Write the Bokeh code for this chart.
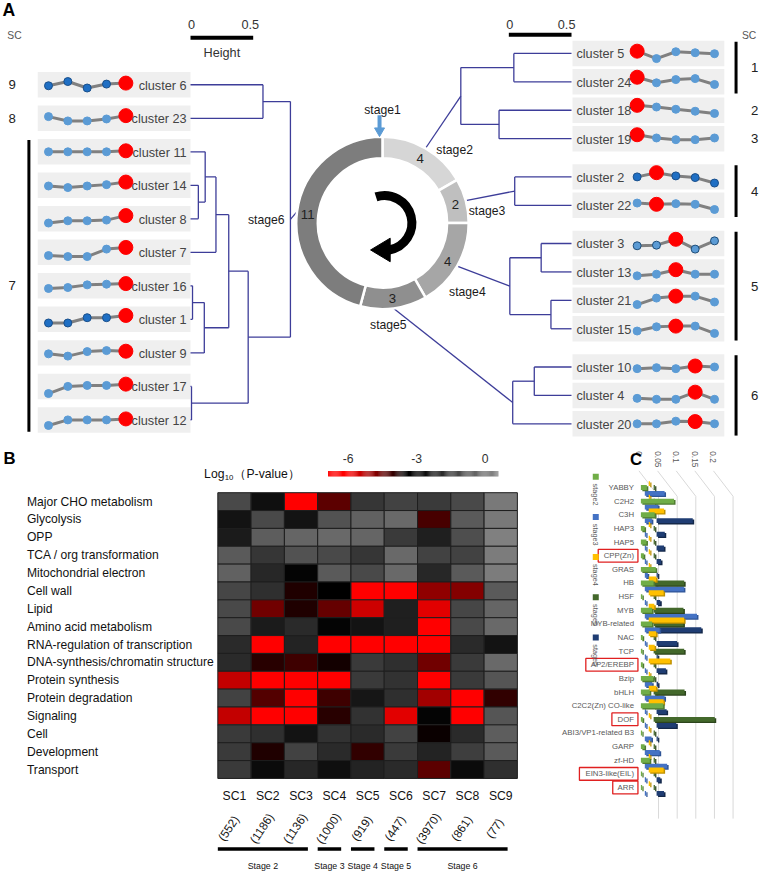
import math
import numpy as np
from bokeh.plotting import figure
from bokeh.layouts import column, row
from bokeh.models import Range1d, LinearColorMapper, ColumnDataSource
from bokeh.transform import transform
from bokeh.core.properties import value
from bokeh.embed import file_html
from bokeh.resources import INLINE

# ======================= DATA =======================
# ---- Panel A: clusters, expression profiles (5 stages), sub-clusters ----
left_clusters = ["cluster 6", "cluster 23", "cluster 11", "cluster 14", "cluster 8", "cluster 7",
                 "cluster 16", "cluster 1", "cluster 9", "cluster 17", "cluster 12"]
left_sc = [9, 8, 7, 7, 7, 7, 7, 7, 7, 7, 7]
left_profiles = [
    [-1.0, 3.3, -3.3, 0.7, 1.7],
    [1.7, -2.7, -2.7, -0.7, 2.7],
    [0.0, 0.0, 0.0, 0.0, 1.0],
    [-0.7, -2.3, -0.7, 0.7, 3.3],
    [-4.3, -2.0, -2.0, -1.3, 3.3],
    [-3.3, -4.3, -4.3, 3.3, 5.0],
    [-2.7, -1.7, 1.0, 1.7, 2.3],
    [-3.7, -3.7, 1.7, 1.7, 4.0],
    [-1.0, -3.3, 1.3, 2.3, 1.7],
    [-7.3, 0.0, 1.0, 1.0, 2.3],
    [-5.7, 0.0, 0.0, 0.0, 1.0],
]
right_clusters = ["cluster 5", "cluster 24", "cluster 18", "cluster 19", "cluster 2", "cluster 22",
                  "cluster 3", "cluster 13", "cluster 21", "cluster 15", "cluster 10", "cluster 4",
                  "cluster 20"]
right_stage = [2, 2, 2, 2, 3, 3, 4, 4, 4, 4, 5, 5, 5]
right_sc = [1, 1, 2, 3, 4, 4, 5, 5, 5, 5, 6, 6, 6]
right_profiles = [
    [2.3, -5.3, 1.7, 0.7, -0.3],
    [4.7, -1.0, 2.3, 3.3, -2.7],
    [5.0, 3.3, 1.0, -1.0, -3.3],
    [4.0, 0.7, -1.0, -1.0, 0.7],
    [0.0, 4.3, 1.0, -0.7, -6.3],
    [2.3, 1.0, 1.7, 1.0, -4.3],
    [-2.3, -1.7, 4.3, -5.7, 2.7],
    [-4.0, -2.3, 2.3, -2.3, -2.3],
    [-4.3, 2.3, 4.3, 4.3, -1.7],
    [-2.3, 2.0, 2.7, 2.7, -4.7],
    [-1.7, -0.7, -1.7, 1.0, 0.0],
    [-3.0, -4.0, -4.0, 3.3, -4.0],
    [0.0, 0.0, 2.7, 2.3, 0.0],
]
dark_point_clusters = ["cluster 6", "cluster 1", "cluster 2"]
outlined_point_clusters = ["cluster 3"]
stage_names = ["stage1", "stage2", "stage3", "stage4", "stage5", "stage6"]
stage_counts = [0, 4, 2, 4, 3, 11]
# dendrograms: (left, right, merge height)
left_tree = (("cluster 6", "cluster 23", 0.578),
             ((((("cluster 11", ("cluster 14", "cluster 8", 0.0625), 0.117), "cluster 7", 0.203)),
               (("cluster 16", "cluster 1", 0.016), "cluster 9", 0.11), 0.305),
              ("cluster 17", "cluster 12", 0.008), 0.46),
             0.797)
right_trees = {
    2: (("cluster 5", "cluster 24", 0.46), ("cluster 18", "cluster 19", 0.578), 0.883),
    3: ("cluster 2", "cluster 22", 0.453),
    4: (("cluster 3", "cluster 13", 0.242), ("cluster 21", "cluster 15", 0.164), 0.492),
    5: (("cluster 10", "cluster 4", 0.297), "cluster 20", 0.469),
}
scale_bar_height = 0.5

# ---- Panel B: log10(P-value) heatmap ----
go_terms = ["Major CHO metabolism", "Glycolysis", "OPP", "TCA / org transformation",
            "Mitochondrial electron", "Cell wall", "Lipid", "Amino acid metabolism",
            "RNA-regulation of transcription", "DNA-synthesis/chromatin structure",
            "Protein synthesis", "Protein degradation", "Signaling", "Cell", "Development",
            "Transport"]
sc_labels = ["SC1", "SC2", "SC3", "SC4", "SC5", "SC6", "SC7", "SC8", "SC9"]
sc_counts = [552, 1186, 1136, 1000, 919, 447, 3970, 861, 77]
log10_p = [
    [-1.1, -2.6, -6.5, -4.4, -1.6, -1.3, -1.5, -1.1, 0.1],
    [-2.5, -1.1, -2.5, -0.9, -0.5, -0.3, -4.2, -0.7, 0.1],
    [-2.3, -0.6, -0.4, -0.3, -0.4, -1.5, -2.2, -1.0, 0.3],
    [-0.7, -1.6, -0.9, -1.1, -1.6, -0.3, -1.3, -1.3, 0.2],
    [-0.5, -2.0, -2.9, -0.7, -1.1, -0.3, -2.0, -0.7, 0.2],
    [-1.2, -1.8, -3.8, -3.3, -6.5, -6.5, -4.9, -4.8, -0.7],
    [-1.1, -4.6, -3.8, -4.5, -5.5, -2.2, -5.7, -1.2, -0.4],
    [-1.1, -2.3, -1.9, -2.9, -2.5, -2.2, -6.5, -1.1, -0.3],
    [-1.9, -6.5, -2.1, -6.5, -6.5, -6.5, -6.5, -1.9, -2.5],
    [-1.9, -3.9, -4.1, -3.7, -1.5, -1.8, -4.6, -1.5, -0.3],
    [-5.4, -6.5, -6.5, -6.5, -1.5, -1.7, -6.5, -1.5, -0.8],
    [-1.3, -4.3, -6.5, -4.1, -2.4, -1.8, -5.1, -6.5, -4.0],
    [-5.4, -6.5, -6.5, -3.9, -1.7, -5.7, -2.9, -6.5, -0.8],
    [-1.5, -1.8, -2.5, -1.7, -1.9, -1.3, -3.6, -1.9, -0.6],
    [-1.5, -3.8, -1.3, -1.9, -4.0, -1.5, -2.1, -1.4, -0.7],
    [-1.5, -2.7, -2.0, -2.6, -2.1, -1.9, -4.4, -2.7, -1.8],
]
colorbar_ticks = [-6, -3, 0]
stage_groups = [("Stage 2", 0, 2), ("Stage 3", 3, 3), ("Stage 4", 4, 4), ("Stage 5", 5, 5),
                ("Stage 6", 6, 8)]

# ---- Panel C: TF family proportions per stage ----
tf_families = ["YABBY", "C2H2", "C3H", "HAP3", "HAP5", "CPP(Zn)", "GRAS", "HB", "HSF", "MYB",
               "MYB-related", "NAC", "TCP", "AP2/EREBP", "Bzip", "bHLH", "C2C2(Zn) CO-like",
               "DOF", "ABI3/VP1-related B3", "GARP", "zf-HD", "EIN3-like(EIL)", "ARR"]
tf_stage2 = [0.016, 0.089, 0.037, 0.010, 0.015, 0.008, 0.040, 0.034, 0.004, 0.030, 0.030, 0.005,
             0.004, 0.005, 0.033, 0.024, 0.060, 0.005, 0.0, 0.010, 0.024, 0.003, 0.0]
tf_stage3 = [0.053, 0.035, 0.019, 0.0, 0.0, 0.0, 0.008, 0.105, 0.0, 0.140, 0.040, 0.0, 0.0, 0.0,
             0.020, 0.053, 0.0, 0.0, 0.018, 0.040, 0.060, 0.0, 0.0]
tf_stage4 = [0.0, 0.0, 0.041, 0.0, 0.0, 0.0, 0.0, 0.020, 0.040, 0.015, 0.095, 0.020, 0.016, 0.058,
             0.0, 0.020, 0.040, 0.0, 0.0, 0.0, 0.0, 0.040, 0.0]
tf_stage5 = [0.0, 0.0, 0.0, 0.0, 0.0, 0.0, 0.0, 0.082, 0.0, 0.080, 0.080, 0.0, 0.082, 0.0, 0.0,
             0.083, 0.0, 0.164, 0.0, 0.0, 0.0, 0.0, 0.0]
tf_stage6 = [0.0, 0.0, 0.097, 0.022, 0.020, 0.012, 0.0, 0.0, 0.010, 0.0, 0.120, 0.055, 0.0, 0.025,
             0.004, 0.0, 0.027, 0.053, 0.0, 0.0, 0.0, 0.010, 0.020]
tf_series_names = ["stage2", "stage3", "stage4", "stage5", "stage6"]
tf_ticks = [0, 0.05, 0.1, 0.15, 0.2]
tf_highlight = ["CPP(Zn)", "AP2/EREBP", "DOF", "EIN3-like(EIL)", "ARR"]

# ======================= STYLE HELPERS =======================
S = 0.98
SANS = "Liberation Sans"


def make_fig(w, h, xr, yr):
    p = figure(width=w, height=h, x_range=xr, y_range=yr, output_backend="svg",
               toolbar_location=None, x_axis_location=None, y_axis_location=None,
               min_border=0, min_border_left=0, min_border_right=0, min_border_top=0,
               min_border_bottom=0)
    p.grid.visible = False
    p.outline_line_color = None
    p.background_fill_color = "white"
    p.border_fill_color = "white"
    return p


def txt(p, x, y, s, size, color="#222222", align="left", baseline="middle", font=SANS,
        style="normal", angle=0.0):
    p.text(x=[x], y=[y], text=[s], angle=angle, text_font=value(font),
           text_font_size=f"{size * S:.1f}px", text_color=color, text_align=align,
           text_baseline=baseline, text_font_style=style)


# ======================= PANEL A =======================
pA = make_fig(762, 439, Range1d(0, 778), Range1d(448, 0))
UNIT = 128.0          # px per dendrogram height unit
L_LEAF_X, R_LEAF_X = 194.0, 583.0
CX, CY, R_IN, R_OUT = 390.0, 227.0, 66.0, 88.0
DENDRO_COLOR = "#3d3d99"

left_y = {n: 86 + i * 34.2 for i, n in enumerate(left_clusters)}
right_y = {n: 54 + i * 29 + (st - 2) * 10 for i, (n, st) in enumerate(zip(right_clusters, right_stage))}

pA.rect(x=[116] * len(left_clusters), y=[left_y[n] for n in left_clusters], width=156, height=26,
        fill_color="#efefef", line_color=None)
pA.rect(x=[661.5] * len(right_clusters), y=[right_y[n] for n in right_clusters], width=155,
        height=26, fill_color="#efefef", line_color=None)


def tree_segments(node, ypos, x_leaf, direction, xs, ys):
    if isinstance(node, str):
        return x_leaf, ypos[node]
    a, b, h = node
    xa, ya = tree_segments(a, ypos, x_leaf, direction, xs, ys)
    xb, yb = tree_segments(b, ypos, x_leaf, direction, xs, ys)
    xh = x_leaf + direction * h * UNIT
    xs.extend([[xa, xh], [xb, xh], [xh, xh]])
    ys.extend([[ya, ya], [yb, yb], [ya, yb]])
    return xh, (ya + yb) / 2.0


def ring_point(stage_idx, r):
    total = sum(stage_counts)
    cum = sum(stage_counts[:stage_idx])
    a_mid = (cum + stage_counts[stage_idx] / 2.0) / total * 2 * math.pi
    return CX + r * math.sin(a_mid), CY - r * math.cos(a_mid)


dxs, dys = [], []
root6 = tree_segments(left_tree, left_y, L_LEAF_X, +1, dxs, dys)
roots = {6: root6}
for st, tr in right_trees.items():
    roots[st] = tree_segments(tr, right_y, R_LEAF_X, -1, dxs, dys)
for st, (rx, ry) in roots.items():
    px, py = ring_point(st - 1, R_OUT)
    dxs.append([rx, px])
    dys.append([ry, py])
pA.multi_line(dxs, dys, line_color=DENDRO_COLOR, line_width=1.3)


def draw_profiles(names, profiles, ypos, x0, red_idx):
    xl, yl, bx, by, bfc, blc, rx, ry = [], [], [], [], [], [], [], []
    for n, prof, ri in zip(names, profiles, red_idx):
        xs = [x0 + 19.75 * k for k in range(5)]
        ys = [ypos[n] - v for v in prof]
        xl.append(xs)
        yl.append(ys)
        for k in range(5):
            if k == ri:
                rx.append(xs[k]); ry.append(ys[k])
            else:
                bx.append(xs[k]); by.append(ys[k])
                if n in dark_point_clusters:
                    bfc.append("#1f6fc4"); blc.append("#1a4f8a")
                elif n in outlined_point_clusters:
                    bfc.append("#5b9bd5"); blc.append("#1f4e79")
                else:
                    bfc.append("#5b9bd5"); blc.append("#5b9bd5")
    pA.multi_line(xl, yl, line_color="#808080", line_width=3)
    pA.scatter(bx, by, size=8, fill_color=bfc, line_color=blc, line_width=1)
    pA.scatter(rx, ry, size=14, fill_color="#ff0000", line_color="#ff0000")


draw_profiles(left_clusters, left_profiles, left_y, 49, [4] * len(left_clusters))
draw_profiles(right_clusters, right_profiles, right_y, 650, [s - 2 for s in right_stage])

pA.text(x=[190] * len(left_clusters), y=[left_y[n] + 1 for n in left_clusters], text=left_clusters,
        text_font=value(SANS), text_font_size=f"{13 * S:.1f}px", text_color="#444444",
        text_align="right", text_baseline="middle")
pA.text(x=[588] * len(right_clusters), y=[right_y[n] + 1 for n in right_clusters],
        text=right_clusters, text_font=value(SANS), text_font_size=f"{13 * S:.1f}px",
        text_color="#444444", text_align="left", text_baseline="middle")

# ring
ring_colors = ["#ffffff", "#d6d6d6", "#bfbfbf", "#a6a6a6", "#8f8f8f", "#7d7d7d"]
total = sum(stage_counts)
cum = 0
for i, c in enumerate(stage_counts):
    if c > 0:
        a0 = cum / total * 360.0
        a1 = (cum + c) / total * 360.0
        pA.annular_wedge(x=[CX], y=[CY], inner_radius=R_IN, outer_radius=R_OUT,
                         start_angle=math.radians(90 - a0), end_angle=math.radians(90 - a1),
                         direction="clock", fill_color=ring_colors[i], line_color="white",
                         line_width=2.5)
        nx, ny = ring_point(i, (R_IN + R_OUT) / 2.0)
        txt(pA, nx, ny + 1, str(c), 13.5, align="center")
    cum += c

stage_label_pos = {"stage1": (390, 112, "center"), "stage2": (445, 153, "left"),
                   "stage3": (478, 215, "left"), "stage4": (458, 297, "left"),
                   "stage5": (396, 331, "center"), "stage6": (290, 224, "right")}
for nm in stage_names:
    x, y, al = stage_label_pos[nm]
    txt(pA, x, y, nm, 12.5, color="#1a1a1a", align=al)

# stage1 arrow
pA.segment(x0=[387], y0=[117], x1=[387], y1=[130], line_color="#5b9bd5", line_width=4)
pA.scatter(x=[387], y=[133], marker="inverted_triangle", size=10, fill_color="#5b9bd5",
           line_color="#5b9bd5")

# circular arrow
ACX, ACY, AR = 392.0, 227.0, 28.0
a_start, a_end = math.radians(108), math.radians(-80)
pA.arc(x=[ACX], y=[ACY], radius=AR, start_angle=a_start, end_angle=a_end, direction="clock",
       line_color="black", line_width=9)
ex, ey = ACX + AR * math.cos(a_end), ACY - AR * math.sin(a_end)
pA.patch(x=[ex + 1, ex + 1, ex - 19], y=[ey - 12, ey + 12, ey], fill_color="black", line_color="black")


# SC bars
def sc_groups(names, scs, ypos, xbar, xlab):
    i = 0
    while i < len(names):
        j = i
        while j + 1 < len(names) and scs[j + 1] == scs[i]:
            j += 1
        y0, y1 = ypos[names[i]], ypos[names[j]]
        if j > i:
            pA.segment(x0=[xbar], y0=[y0 - 12], x1=[xbar], y1=[y1 + 12], line_color="black",
                       line_width=3)
        txt(pA, xlab, (y0 + y1) / 2.0, str(scs[i]), 13.5, align="center")
        i = j + 1


sc_groups(left_clusters, left_sc, left_y, 29, 12)
sc_groups(right_clusters, right_sc, right_y, 751, 770)
txt(pA, 7, 36, "SC", 10.5, color="#555555")
txt(pA, 757, 36, "SC", 10.5, color="#555555")
txt(pA, 2, 10, "A", 18, color="black", style="bold")

# scale bars
pA.segment(x0=[L_LEAF_X], y0=[38], x1=[L_LEAF_X + scale_bar_height * UNIT], y1=[38],
           line_color="black", line_width=4)
txt(pA, L_LEAF_X + 1, 24, "0", 13, color="#333333", align="center")
txt(pA, L_LEAF_X + scale_bar_height * UNIT - 3, 24, "0.5", 13, color="#333333", align="center")
txt(pA, L_LEAF_X + scale_bar_height * UNIT / 2, 54, "Height", 13, color="#333333", align="center")
pA.segment(x0=[R_LEAF_X - scale_bar_height * UNIT], y0=[35], x1=[R_LEAF_X], y1=[35],
           line_color="black", line_width=4)
txt(pA, R_LEAF_X - scale_bar_height * UNIT + 1, 24, "0", 13, color="#333333", align="center")
txt(pA, R_LEAF_X - 5, 24, "0.5", 13, color="#333333", align="center")

# ======================= PANEL B =======================
B_X0, B_CW = 222.0, 34.0
B_Y0, B_RH = 502.3, 18.23
SPLIT = 570.0


def bx(px):
    return (px - B_X0) / B_CW


def by(py):
    return (py - B_Y0) / B_RH


pB = make_fig(558, 434, Range1d(bx(0), bx(SPLIT)), Range1d(by(891), by(448)))


def cmap_hex(v):
    if v <= -6:
        r, g, b = 255, 0, 0
    elif v <= -3.5:
        r, g, b = int(255 * (-3.5 - v) / 2.5), 0, 0
    elif v <= -3.0:
        r, g, b = 0, 0, 0
    else:
        gg = int(min(140, 140 * (v + 3) / 3.6))
        r, g, b = gg, gg, gg
    return "#%02x%02x%02x" % (r, g, b)


LOW, HIGH = -7.0, 0.6
palette = [cmap_hex(v) for v in np.linspace(LOW, HIGH, 256)]
mapper = LinearColorMapper(palette=palette, low=LOW, high=HIGH)

hx, hy, hv = [], [], []
for i, rowv in enumerate(log10_p):
    for j, v in enumerate(rowv):
        hx.append(j + 0.5); hy.append(i + 0.5); hv.append(v)
src = ColumnDataSource(dict(x=hx, y=hy, v=hv))
pB.rect(x="x", y="y", width=1, height=1, source=src, fill_color=transform("v", mapper),
        line_color="#1e1e1e", line_width=1)

pB.text(x=[bx(27)] * len(go_terms), y=[i + 0.5 for i in range(len(go_terms))], text=go_terms,
        text_font=value(SANS), text_font_size=f"{12.3 * S:.1f}px", text_color="#111111",
        text_align="left", text_baseline="middle")
pB.text(x=[j + 0.5 for j in range(9)], y=[by(812)] * 9, text=sc_labels, text_font=value(SANS),
        text_font_size=f"{12.5 * S:.1f}px", text_color="#111111", text_align="center",
        text_baseline="middle")
pB.text(x=[j + 0.5 - 6 / B_CW for j in range(9)], y=[by(845)] * 9,
        text=[f"({c})" for c in sc_counts], angle=0.98, text_font=value(SANS),
        text_font_size=f"{12 * S:.1f}px", text_color="#111111", text_align="center",
        text_baseline="middle")
for name, j0, j1 in stage_groups:
    x0, x1 = j0 + 0.0, j1 + 1 - 10 / B_CW
    pB.segment(x0=[x0], y0=[by(866)], x1=[x1], y1=[by(866)], line_color="black", line_width=3.5)
    txt(pB, (x0 + x1) / 2, by(883), name, 9.0, color="#111111", align="center")

# colour bar
CB_ZERO, CB_PXU = 495.0, 23.3
cb_vals = np.linspace(-6.86, 0.56, 160)
cb_step = (cb_vals[1] - cb_vals[0]) * CB_PXU / B_CW
cb_src = ColumnDataSource(dict(x=[bx(CB_ZERO + v * CB_PXU) for v in cb_vals],
                               y=[by(483)] * len(cb_vals), v=list(cb_vals)))
pB.rect(x="x", y="y", width=cb_step * 1.05, height=5.5 / B_RH, source=cb_src,
        fill_color=transform("v", mapper), line_color=None)
for t in colorbar_ticks:
    txt(pB, bx(CB_ZERO + t * CB_PXU), by(467), str(t), 12.5, color="#333333", align="center")
txt(pB, bx(208), by(483), "Log", 12.5, color="#111111")
txt(pB, bx(229), by(487), "10", 8, color="#111111")
txt(pB, bx(239), by(483), "（P-value）", 12.5, color="#111111")
txt(pB, bx(3), by(467), "B", 17, color="black", style="bold")

# ======================= PANEL C =======================
C_X0, C_PXU = 654.0, 380.0
C_Y0, C_RH = 497.0, 13.92


def cx(px):
    return (px - C_X0) / C_PXU


def cy(py):
    return (py - C_Y0) / C_RH


pC = make_fig(204, 434, Range1d(cx(SPLIT), cx(778)), Range1d(cy(891), cy(448)))

# gridlines (perspective back wall)
gx, gy = [], []
for t in tf_ticks:
    gx.append([t + cx(652), t + cx(672), t + cx(672)])
    gy.append([cy(480), cy(506), cy(835)])
pC.multi_line(gx, gy, line_color="#d9d9d9", line_width=1)
pC.text(x=[t + cx(652) for t in tf_ticks], y=[cy(460)] * len(tf_ticks),
        text=[f"{t:g}" for t in tf_ticks], angle=-math.pi / 2, text_font=value(SANS),
        text_font_size=f"{8.5 * S:.1f}px", text_color="#595959", text_align="left",
        text_baseline="middle")

series = [tf_stage2, tf_stage3, tf_stage4, tf_stage5, tf_stage6]
s_colors = ["#70ad47", "#4472c4", "#ffc000", "#43682b", "#1f3d73"]
s_shadow = ["#4e7a31", "#2f5597", "#bf9000", "#2c451c", "#142849"]
s_shift_px = [0, 4, 8, 13, 16]
s_dy_px = [0, 6, -4, 0, 6]
BAR_H = 5.0 / C_RH
for s in [4, 1, 3, 2, 0]:
    vals = series[s]
    ys = [k + s_dy_px[s] / C_RH for k in range(len(vals))]
    lefts = [s_shift_px[s] / C_PXU] * len(vals)
    rights = [s_shift_px[s] / C_PXU + max(v, 1.3 / C_PXU) for v in vals]
    pC.hbar(y=[y + 1.3 / C_RH for y in ys], left=[l + 1.5 / C_PXU for l in lefts],
            right=[r + 1.5 / C_PXU for r in rights], height=BAR_H, fill_color=s_shadow[s],
            line_color=None)
    pC.hbar(y=ys, left=lefts, right=rights, height=BAR_H, fill_color=s_colors[s], line_color=None)

pC.text(x=[cx(647)] * len(tf_families), y=list(range(len(tf_families))), text=tf_families,
        text_font=value(SANS), text_font_size=f"{8 * S:.1f}px", text_color="#595959",
        text_align="right", text_baseline="middle")

CW = {c: 0.667 for c in "ABCDEFGHJKLNPRSTUVXYZ"}
CW.update({"I": 0.278, "M": 0.833, "O": 0.778, "Q": 0.778, "W": 0.944, "(": 0.333, ")": 0.333,
           "/": 0.278, "-": 0.333, " ": 0.278, "l": 0.222, "i": 0.222, "j": 0.222, "t": 0.278,
           "f": 0.278, "r": 0.333, "m": 0.833, "w": 0.722})


def est_w(s, size):
    return sum(CW.get(ch, 0.556) for ch in s) * size


for lab in tf_highlight:
    k = tf_families.index(lab)
    w = est_w(lab, 8 * S)
    pC.quad(left=[cx(647 - w - 6)], right=[cx(651)], top=[k - 6.5 / C_RH], bottom=[k + 6.5 / C_RH],
            fill_color=None, line_color="#e02020", line_width=1.3)

for i, nm in enumerate(tf_series_names):
    pC.scatter(x=[cx(608)], y=[cy(486 + 41 * i)], marker="square", size=6,
               fill_color=s_colors[i], line_color=None)
    txt(pC, cx(608), cy(493 + 41 * i), nm, 7.5, color="#595959", angle=-math.pi / 2)
txt(pC, cx(643), cy(468), "C", 17, color="black", style="bold")

layout = column(pA, row(pB, pC, spacing=0), spacing=0)
open("out.html", "w").write(file_html(layout, INLINE, title="chart"))
